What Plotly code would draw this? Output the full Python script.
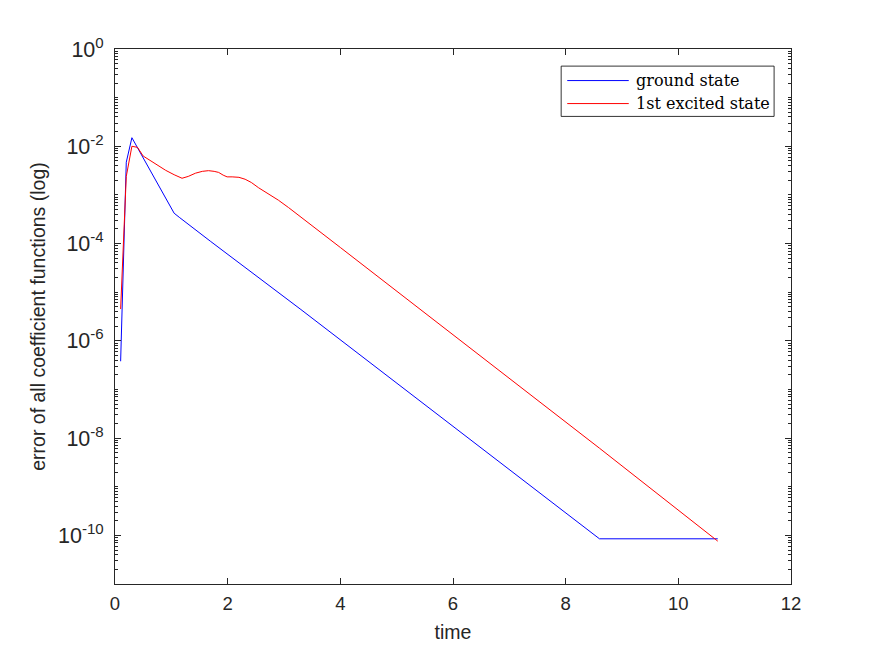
"""
Error decay of the coefficient functions, ground state vs 1st excited state.
"""

import plotly.graph_objects as go

# ground state (blue)
ground_time = [0.1, 0.2, 0.3, 1.05, 1.15, 1.3, 1.7, 3.3, 7.7, 8.6, 10.7]
ground_err = [3.8e-7, 4.7e-3, 1.5e-2, 4.2e-4, 3.4e-4, 2.5e-4, 1.1e-4,
              4.4e-6, 5.4e-10, 8.5e-11, 8.5e-11]

# 1st excited state (red)
excited_time = [0.1, 0.2, 0.3, 0.4, 0.5, 0.8, 0.9, 1.05, 1.19, 1.3, 1.43,
                1.55, 1.66, 1.76, 1.84, 1.92, 1.99, 2.08, 2.2, 2.31, 2.42,
                2.55, 2.72, 2.9, 3.08, 3.26, 3.55, 4.0, 8.6, 10.7]
excited_err = [4.5e-6, 2.4e-3, 1.0e-2, 9.5e-3, 6.3e-3, 3.7e-3, 3.2e-3,
               2.6e-3, 2.2e-3, 2.4e-3, 2.8e-3, 3.05e-3, 3.15e-3, 3.05e-3,
               2.9e-3, 2.55e-3, 2.35e-3, 2.35e-3, 2.3e-3, 2.1e-3, 1.8e-3,
               1.4e-3, 1.05e-3, 7.8e-4, 5.5e-4, 3.8e-4, 2.1e-4, 8.3e-5,
               6.2e-9, 7.6e-11]

y_tickvals = [1e-10, 1e-8, 1e-6, 1e-4, 1e-2, 1]
y_ticktext = ["10<sup>-10</sup>", "10<sup>-8</sup>", "10<sup>-6</sup>",
              "10<sup>-4</sup>", "10<sup>-2</sup>", "10<sup>0</sup>"]

legend_names = ["ground state", "1st excited state"]
line_colors = ["#0000ff", "#ff0000"]

axis_color = "#262626"

fig = go.Figure()
fig.add_trace(go.Scatter(x=ground_time, y=ground_err, mode="lines",
                         line=dict(color=line_colors[0], width=1),
                         name=legend_names[0], showlegend=False))
fig.add_trace(go.Scatter(x=excited_time, y=excited_err, mode="lines",
                         line=dict(color=line_colors[1], width=1),
                         name=legend_names[1], showlegend=False))

# MATLAB-like legend box drawn by hand
fig.add_shape(type="rect", xref="paper", yref="paper",
              x0=0.66, x1=0.975, y0=0.874, y1=0.968,
              line=dict(color="black", width=0.8), fillcolor="white")
for i, (name, col) in enumerate(zip(legend_names, line_colors)):
    yy = 0.941 - i * 0.043
    fig.add_shape(type="line", xref="paper", yref="paper",
                  x0=0.669, x1=0.760, y0=yy, y1=yy,
                  line=dict(color=col, width=1))
    fig.add_annotation(text=name, xref="paper", yref="paper",
                       x=0.768, y=yy, xanchor="left", yanchor="middle",
                       showarrow=False,
                       font=dict(family="DejaVu Serif", size=16, color="black"))

# page body has an 8px margin, so the margins are trimmed to compensate
fig.update_layout(
    width=875, height=656,
    margin=dict(l=107, r=91.5, t=41, b=80),
    paper_bgcolor="white", plot_bgcolor="white",
    font=dict(family="Liberation Sans", size=19, color=axis_color),
)
fig.update_xaxes(
    range=[0, 12], dtick=2, tick0=0,
    showline=True, mirror="ticks", linecolor=axis_color, linewidth=1,
    ticks="inside", ticklen=6, tickcolor=axis_color, ticklabelstandoff=3,
    tickfont=dict(size=18.5),
    showgrid=False, zeroline=False,
    title=dict(text="time", font=dict(size=19.5), standoff=12),
)
fig.update_yaxes(
    type="log", range=[-11, 0],
    tickvals=y_tickvals, ticktext=y_ticktext,
    showline=True, mirror="ticks", linecolor=axis_color, linewidth=1,
    ticks="inside", ticklen=6, tickcolor=axis_color, ticklabelstandoff=6,
    tickfont=dict(size=21.5),
    minor=dict(ticks="inside", ticklen=3, dtick="D1", tickcolor=axis_color,
               showgrid=False),
    showgrid=False, zeroline=False,
    title=dict(text="error of all coefficient functions (log)",
               font=dict(size=19.5), standoff=7),
)

fig.write_html("out.html")
